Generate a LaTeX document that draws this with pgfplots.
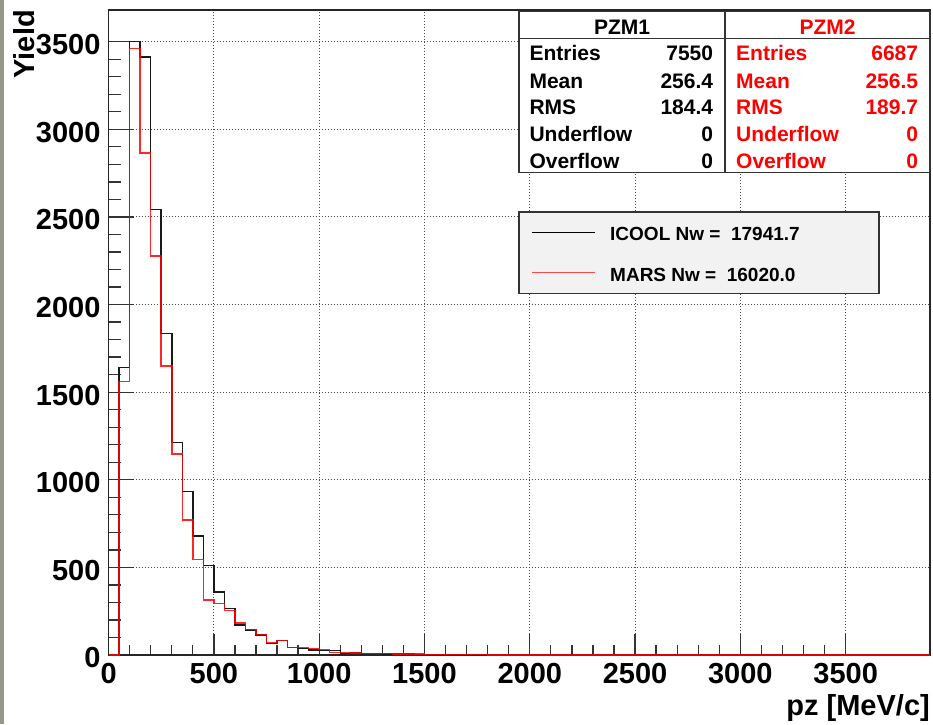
\documentclass[border=0pt]{standalone}
\usepackage{fontspec}
\setmainfont{Liberation Sans}
\usepackage{pgfplots}
\pgfplotsset{compat=1.18}
\usepackage{pgfplotstable}

\pgfplotstableread{
x y
0 0
50 1640
100 3500
150 3414
200 2543
250 1836
300 1214
350 934
400 679
450 512
500 361
550 266
600 171
650 143
700 114
750 66
800 82
850 44
900 38
950 28
1000 25
1050 25
1100 10
1150 12
1200 8
1250 8
1300 6
1350 5
1400 5
1450 4
1500 3
1550 3
1600 2
1650 2
1700 1
1750 0
1800 0
3900 0
}\icool

\pgfplotstableread{
x y
0 0
50 1560
100 3462
150 2866
200 2277
250 1648
300 1147
350 770
400 546
450 314
500 295
550 253
600 184
650 147
700 118
750 70
800 82
850 44
900 44
950 38
1000 32
1050 15
1100 15
1150 12
1200 10
1250 8
1300 8
1350 6
1400 5
1450 5
1500 4
1550 3
1600 3
1650 2
1700 2
1750 2
1800 1
1850 1
1900 0
3900 0
}\mars

\definecolor{strip}{RGB}{150,152,135}
\definecolor{legfill}{RGB}{242,242,242}

\begin{document}
\begin{tikzpicture}[x=1pt,y=1pt]
\path[use as bounding box] (-108.6,-69) rectangle (824.4,655);
\fill[strip] (-108.6,-69) rectangle (-104.6,655);
\begin{axis}[
  at={(0,0)}, anchor=south west,
  width=821.3pt, height=645pt, scale only axis,
  xmin=0, xmax=3900, ymin=0, ymax=3681,
  xtick={0,500,...,3500}, ytick={0,500,...,3500},
  minor tick num=4,
  tick align=inside, xtick pos=bottom, ytick pos=left,
  major tick length=25pt, minor tick length=12pt,
  xtick style={/pgfplots/major tick length=21pt,/pgfplots/minor tick length=10pt},
  grid=major,
  grid style={black!70, line width=1pt, dash pattern=on 1pt off 2pt},
  axis line style={line width=1.5pt, black!85},
  every tick/.style={line width=1.3pt, black!80},
  /pgf/number format/assume math mode=true,
  /pgf/number format/1000 sep={},
  tick label style={font=\fontsize{29}{29}\selectfont\bfseries},
  xticklabel style={anchor=north, inner sep=0pt, yshift=-8pt},
  yticklabel style={anchor=east, inner sep=0pt, xshift=-8pt, yshift=-3pt},
  clip=false,
]
\addplot[const plot, black!90, line width=1.5pt] table[x=x,y=y] {\icool};
\addplot[const plot, red, line width=1.5pt, opacity=0.85] table[x=x,y=y] {\mars};
\end{axis}

% axis titles
\node[rotate=90, anchor=base east, inner sep=0pt, font=\fontsize{29}{29}\selectfont\bfseries] at (-73.6,645) {Yield};
\node[anchor=base east, inner sep=0pt, font=\fontsize{29}{29}\selectfont\bfseries] at (821.4,-60) {pz [MeV/c]};

% stats box
\filldraw[fill=white, draw=black!80, line width=1.4pt] (410.4,482.7) rectangle (821.4,643.3);
\draw[black!80, line width=1.4pt] (410.4,616.7) -- (821.4,616.7);
\draw[black!80, line width=1.4pt] (616.4,482.7) -- (616.4,643.3);
\begin{scope}[every node/.style={inner sep=0pt, font=\fontsize{21}{21}\selectfont\bfseries}]
\node[anchor=base] at (513.4,620) {PZM1};
\node[anchor=base west] at (420.7,594) {Entries};
\node[anchor=base west] at (420.7,566.7) {Mean};
\node[anchor=base west] at (420.7,540) {RMS};
\node[anchor=base west] at (420.7,513.3) {Underflow};
\node[anchor=base west] at (420.7,486.7) {Overflow};
\node[anchor=base east] at (604.7,594) {7550};
\node[anchor=base east] at (604.7,566.7) {256.4};
\node[anchor=base east] at (604.7,540) {184.4};
\node[anchor=base east] at (604.7,513.3) {0};
\node[anchor=base east] at (604.7,486.7) {0};
\node[anchor=base, red] at (718.9,620) {PZM2};
\node[anchor=base west, red] at (627.4,594) {Entries};
\node[anchor=base west, red] at (627.4,566.7) {Mean};
\node[anchor=base west, red] at (627.4,540) {RMS};
\node[anchor=base west, red] at (627.4,513.3) {Underflow};
\node[anchor=base west, red] at (627.4,486.7) {Overflow};
\node[anchor=base east, red] at (809.7,594) {6687};
\node[anchor=base east, red] at (809.7,566.7) {256.5};
\node[anchor=base east, red] at (809.7,540) {189.7};
\node[anchor=base east, red] at (809.7,513.3) {0};
\node[anchor=base east, red] at (809.7,486.7) {0};
\end{scope}

% legend
\filldraw[fill=legfill, draw=black!80, line width=1.4pt] (410.4,361.7) rectangle (770.4,443);
\draw[black, line width=1.4pt] (423.4,422.7) -- (486.4,422.7);
\draw[red, line width=1.4pt, opacity=0.7] (423.4,382.3) -- (486.4,382.3);
\node[anchor=base west, inner sep=0pt, font=\fontsize{19}{19}\selectfont\bfseries] at (501.4,414.3) {ICOOL Nw =\ \ 17941.7};
\node[anchor=base west, inner sep=0pt, font=\fontsize{19}{19}\selectfont\bfseries] at (501.4,374) {MARS Nw =\ \ 16020.0};
\end{tikzpicture}
\end{document}
